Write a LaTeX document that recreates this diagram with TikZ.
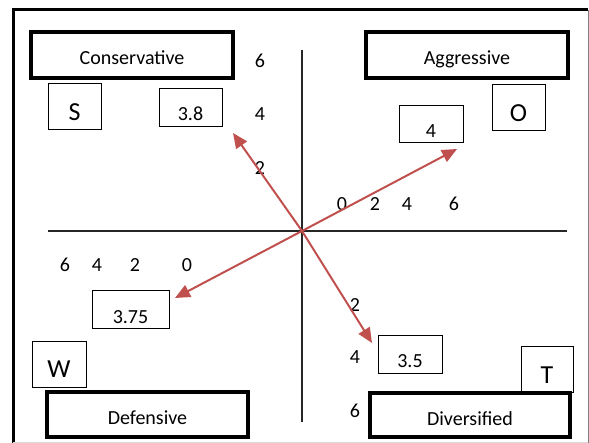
\documentclass[tikz,border=0pt]{standalone}
\usepackage{fontspec}
\setmainfont{Carlito}
\usetikzlibrary{arrows.meta}
\definecolor{vecred}{RGB}{192,80,77}

\begin{document}
\begin{tikzpicture}[x=0.5pt, y=-0.5pt, font=\normalsize,
    strategy/.style={draw, line width=2pt, inner sep=0pt, text height=10pt, text depth=0pt},
    letter/.style={draw, line width=0.5pt, inner sep=0pt, minimum width=26.5pt,
      minimum height=23pt, font=\fontsize{13}{15}\selectfont, text height=14pt, text depth=0pt},
    value/.style={draw, line width=0.5pt, inner sep=0pt, minimum height=19pt,
      text height=13pt, text depth=0pt},
    tick/.style={inner sep=0pt},
    vec/.style={vecred, line width=1pt, -{Triangle[length=7.5pt, width=6.5pt]}}]
    \useasboundingbox (0,0) rectangle (589,443);
    % frame
    \draw[line width=1.5pt] (13,443) -- (13,10) -- (588,10);
    \draw[gray, line width=0.5pt] (588,10) -- (588,443);
    \draw[gray!30, line width=0.5pt] (13,442) -- (588,442);
    % axes
    \draw[black!85, line width=0.75pt] (302,50) -- (302,422);
    \draw[black!85, line width=0.75pt] (48,231) -- (567,231);
    \coordinate (o) at (302,231);
    % strategy boxes
    \node[strategy, minimum width=101pt, minimum height=23pt] (cons) at (132,55) {Conservative};
    \node[strategy, minimum width=101pt, minimum height=23pt] (aggr) at (467,55) {Aggressive};
    \node[strategy, minimum width=100.5pt, minimum height=22.5pt] (def) at (147.5,414.5) {Defensive};
    \node[strategy, minimum width=100pt, minimum height=22pt] (div) at (470,415) {Diversified};
    % quadrant letters
    \node[letter] (s) at (74.5,106.5) {S};
    \node[letter] (o-box) at (518.5,108) {O};
    \node[letter, minimum width=27pt] (w) at (59,364) {W};
    \node[letter, minimum width=26pt] (t) at (547,369) {T};
    % scores
    \node[value, minimum width=31.5pt] (v38) at (190.5,107.5) {3.8};
    \node[value, minimum width=32pt, minimum height=18.5pt] (v4) at (431,124.5) {4};
    \node[value, minimum width=38.5pt] (v375) at (130.5,310) {3.75};
    \node[value, minimum width=32pt] (v35) at (410,354) {3.5};
    % axis numbers
    \node[tick] (up6) at (260,61) {6};
    \node[tick] (up4) at (260,114) {4};
    \node[tick] (up2) at (260,168) {2};
    \node[tick] (r0) at (342,204) {0};
    \node[tick] (r2) at (375,204) {2};
    \node[tick] (r4) at (407,204) {4};
    \node[tick] (r6) at (454,204) {6};
    \node[tick] (l6) at (65,265) {6};
    \node[tick] (l4) at (97,265) {4};
    \node[tick] (l2) at (135,265) {2};
    \node[tick] (l0) at (187,265) {0};
    \node[tick] (dn2) at (355,305) {2};
    \node[tick] (dn4) at (355,357) {4};
    \node[tick] (dn6) at (355,411) {6};
    % strategy vectors
    \coordinate (tipS) at (233,133);
    \coordinate (tipO) at (457,149);
    \coordinate (tipW) at (175,298);
    \coordinate (tipT) at (372,343);
    \draw[vec] (o) -- (tipS);
    \draw[vec] (o) -- (tipO);
    \draw[vec] (o) -- (tipW);
    \draw[vec] (o) -- (tipT);
  \end{tikzpicture}
\end{document}
